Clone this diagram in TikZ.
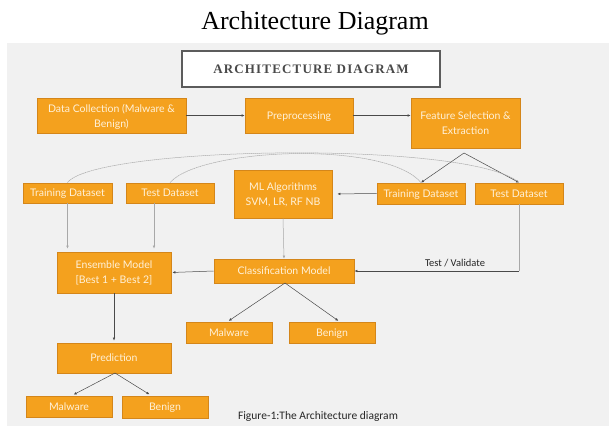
\documentclass[tikz,border=0pt]{standalone}
\usepackage{fontspec}
\usetikzlibrary{arrows.meta}
\newfontfamily\boxfont{Lato}
\newfontfamily\capfont{Carlito}
\newfontfamily\serifT{Liberation Serif}
\newfontfamily\headfont[LetterSpace=9]{Liberation Serif}
\definecolor{orangefill}{HTML}{F4A11E}
\definecolor{orangeedge}{HTML}{D4861A}
\definecolor{boxtext}{HTML}{FFF1D8}
\definecolor{bggrey}{HTML}{F1F1F1}
\definecolor{lineD}{HTML}{4A4A4A}
\definecolor{lineL}{HTML}{A8A8A8}
\begin{document}
\begin{tikzpicture}[x=1pt,y=-1pt,
  box/.style={draw=orangeedge, line width=0.8pt, fill=orangefill, text=boxtext,
    font=\boxfont\fontsize{10.5}{15}\selectfont, align=center, inner sep=1pt, text depth=0pt},
  conn/.style={draw=lineD, line width=0.5pt},
  connL/.style={draw=lineL, line width=0.5pt},
  tip/.style={-{Latex[length=3pt,width=2.6pt]}},
  arc/.style={draw=lineL, line width=0.5pt, dash pattern=on 1.5pt off 0.5pt}
]
\useasboundingbox (0,0) rectangle (609,427);
\fill[white] (0,0) rectangle (609,427);
\fill[bggrey] (7,43) rectangle (609,426);

\node[font=\serifT\fontsize{26}{29}\selectfont] (title) at (315,23) {Architecture Diagram};
\node[draw=lineD!90, line width=1.6pt, fill=white, minimum width=258pt, minimum height=36pt,
  font=\headfont\bfseries\fontsize{13}{15}\selectfont, text=lineD] (head) at (311,69) {ARCHITECTURE DIAGRAM};

\node[box, minimum width=149pt, minimum height=35pt] (dc) at (111.5,115.5) {Data Collection (Malware \&\\Benign)};
\node[box, minimum width=108pt, minimum height=35pt] (pre) at (299,115.5) {Preprocessing};
\node[box, minimum width=109pt, minimum height=50pt] (fs) at (465.5,123) {Feature Selection \&\\Extraction};

\node[box, minimum width=89pt, minimum height=20pt] (trL) at (67.5,193) {Training Dataset};
\node[box, minimum width=88pt, minimum height=20pt] (teL) at (170,193) {Test Dataset};
\node[box, minimum width=98pt, minimum height=48pt] (ml) at (283,194) {ML Algorithms\\SVM, LR, RF NB};
\node[box, minimum width=88pt, minimum height=21pt] (trR) at (421,193.5) {Training Dataset};
\node[box, minimum width=88pt, minimum height=21pt] (teR) at (519,193.5) {Test Dataset};

\node[box, minimum width=114pt, minimum height=41pt] (ens) at (114,272.5) {Ensemble Model\\{[}Best 1 + Best 2{]}};
\node[box, minimum width=140pt, minimum height=24pt] (cls) at (284,271) {Classification Model};
\node[box, minimum width=86pt, minimum height=21pt] (malM) at (229,332.5) {Malware};
\node[box, minimum width=86pt, minimum height=21pt] (benM) at (332,332.5) {Benign};
\node[box, minimum width=114pt, minimum height=30pt] (pred) at (114,358) {Prediction};
\node[box, minimum width=86pt, minimum height=21pt] (malB) at (69,406.5) {Malware};
\node[box, minimum width=86pt, minimum height=22pt] (benB) at (165,407) {Benign};

\node[font=\capfont\fontsize{11.5}{13}\selectfont, text=black!85] (cap) at (318,416) {Figure-1:The Architecture diagram};
\node[font=\capfont\fontsize{10.5}{12}\selectfont, text=black!85] (tv) at (455,263) {Test / Validate};

% top row arrows
\draw[conn,tip] (dc.east) -- (pre.west);
\draw[conn,tip] (pre.east) -- (pre.east -| fs.west);

% split from feature selection
\coordinate (apF) at (464,153);
\draw[conn,tip] (apF) -- (trR.north);
\draw[conn,tip] (apF) -- (teR.north);

% arcs copying datasets to the left
\draw[arc] (trL.north) .. controls (95,146) and (470,140) .. (teR.north);
\draw[arc] (teL.north) .. controls (200,148) and (385,140) .. (trR.north);

% training -> ML
\draw[conn,tip,shorten >=5pt] (trR.west) -- (ml.east);
% ML -> classification
\draw[connL,tip] (ml.south) -- (cls.north);
% test right -> classification
\coordinate (tvc) at (teR.south |- cls.east);
\draw[connL] (teR.south) -- (tvc);
\draw[conn,tip] (tvc) -- (cls.east);
% classification -> ensemble
\draw[conn,tip,shorten >=1pt] (cls.west) -- (ens.east);
% left datasets -> ensemble
\draw[connL,tip,shorten >=3pt] (trL.south) -- (trL.south |- ens.north);
\coordinate (teLb) at (154,203);
\draw[connL,tip,shorten >=3pt] (teLb) -- (teLb |- ens.north);

% classification split
\coordinate (apC) at (285,283);
\draw[conn,tip,shorten >=2pt] (apC) -- (227,322) coordinate (mM);
\draw[conn,tip,shorten >=2pt] (apC) -- (340,322) coordinate (bM);

% ensemble -> prediction
\draw[conn,tip,shorten >=2pt] (ens.south) -- (pred.north);
% prediction split
\coordinate (apP) at (115,373);
\draw[conn,tip,shorten >=3pt] (apP) -- (71,396) coordinate (mB);
\draw[conn,tip,shorten >=3pt] (apP) -- (152,396) coordinate (bB);
\end{tikzpicture}
\end{document}
